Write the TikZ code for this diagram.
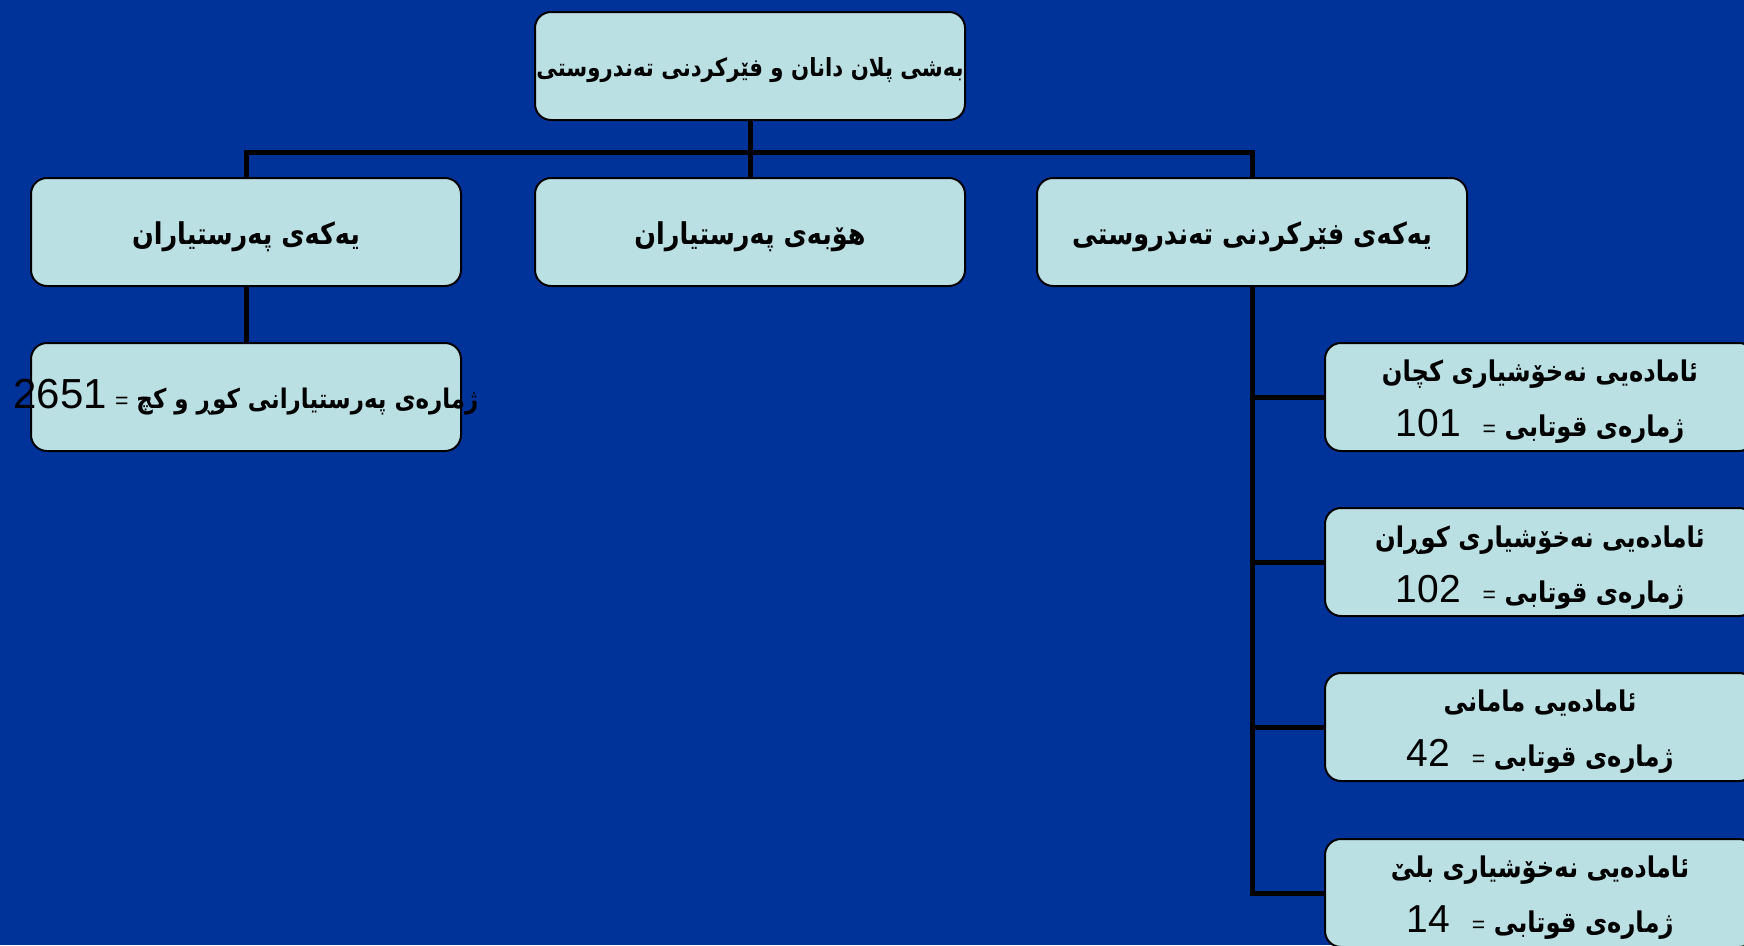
\documentclass[tikz,border=0pt]{standalone}
\usepackage{fontspec}
\TeXXeTstate=1
\newfontfamily\arabicfont[Script=Arabic,FakeStretch=0.85]{DejaVu Sans}
\newfontfamily\numfont{Liberation Sans}
\definecolor{bg}{RGB}{0,51,153}
\definecolor{boxc}{RGB}{187,224,227}
\newcommand{\eqs}{{\numfont\mdseries\fontsize{23}{23}\selectfont =}}
\newcommand{\num}[2]{\beginL{\numfont\mdseries\fontsize{#1}{#1}\selectfont #2}\endL}
\newcommand{\rl}[1]{\makebox[0pt][c]{\beginR #1\endR}}
\begin{document}
\begin{tikzpicture}[x=1pt,y=-1pt,
  box/.style={draw=black, line width=2pt, fill=boxc, rounded corners=16pt,
    minimum width=430pt, minimum height=108pt, inner sep=0pt, align=center,
    font=\arabicfont\bfseries\fontsize{30}{55}\selectfont},
  txt/.style={inner sep=0pt, align=center, font=\arabicfont\bfseries\fontsize{30}{55}\selectfont},
  ctxt/.style={txt, font=\arabicfont\bfseries\fontsize{28.5}{55}\selectfont},
  conn/.style={line width=5pt, draw=black}]
\useasboundingbox (0,0) rectangle (1744,945);
\clip (0,0) rectangle (1744,945);
\fill[bg] (0,0) rectangle (1744,945);

% boxes
\node[box, text depth=0pt] (top) at (750,66) {\raisebox{-3pt}{\fontsize{25}{30}\selectfont\rl{بەشی پلان دانان و فێرکردنی تەندروستی}}};
\node[box] (l) at (246,232) {};
\node[box] (m) at (750,232) {};
\node[box] (r) at (1252,232) {};
\node[box] (lc) at (246,397) {\fontsize{27}{30}\selectfont\rl{ژمارەی پەرستیارانی کوڕ و کچ \eqs{} \num{42}{2651}}};
\node[box] (c1) at (1540,397) {};
\node[box] (c2) at (1540,562) {};
\node[box] (c3) at (1540,727) {};
\node[box] (c4) at (1540,893) {};

% texts
\node[txt] (lt) at ([yshift=-5pt]l.center) {\rl{یەکەی پەرستیاران}};
\node[txt] (mt) at ([yshift=-5pt]m.center) {\rl{هۆبەی پەرستیاران}};
\node[txt] (rt) at ([yshift=-5pt]r.center) {\rl{یەکەی فێرکردنی تەندروستی}};
\node[ctxt] (c1t) at ([yshift=-5pt]c1.center) {\rl{ئامادەیی نەخۆشیاری کچان}\\ \rl{ژمارەی قوتابی \eqs\hspace{22pt}\num{39}{101}}};
\node[ctxt] (c2t) at ([yshift=-6pt]c2.center) {\rl{ئامادەیی نەخۆشیاری کوڕان}\\ \rl{ژمارەی قوتابی \eqs\hspace{22pt}\num{39}{102}}};
\node[ctxt] (c3t) at ([yshift=-5pt]c3.center) {\rl{ئامادەیی مامانی}\\ \rl{ژمارەی قوتابی \eqs\hspace{22pt}\num{39}{42}}};
\node[ctxt] (c4t) at ([yshift=-5pt]c4.center) {\rl{ئامادەیی نەخۆشیاری بلێ}\\ \rl{ژمارەی قوتابی \eqs\hspace{22pt}\num{39}{14}}};

% connectors
\coordinate (j) at (750,152);
\draw[conn] (top.south) -- (j);
\draw[conn] (l.north) |- (j) -| (r.north);
\draw[conn] (j) -- (m.north);
\draw[conn] (l.south) -- (lc.north);
\draw[conn] (r.south) |- (c1.west);
\draw[conn] (r.south) |- (c2.west);
\draw[conn] (r.south) |- (c3.west);
\draw[conn] (r.south) |- (c4.west);
\end{tikzpicture}
\end{document}
